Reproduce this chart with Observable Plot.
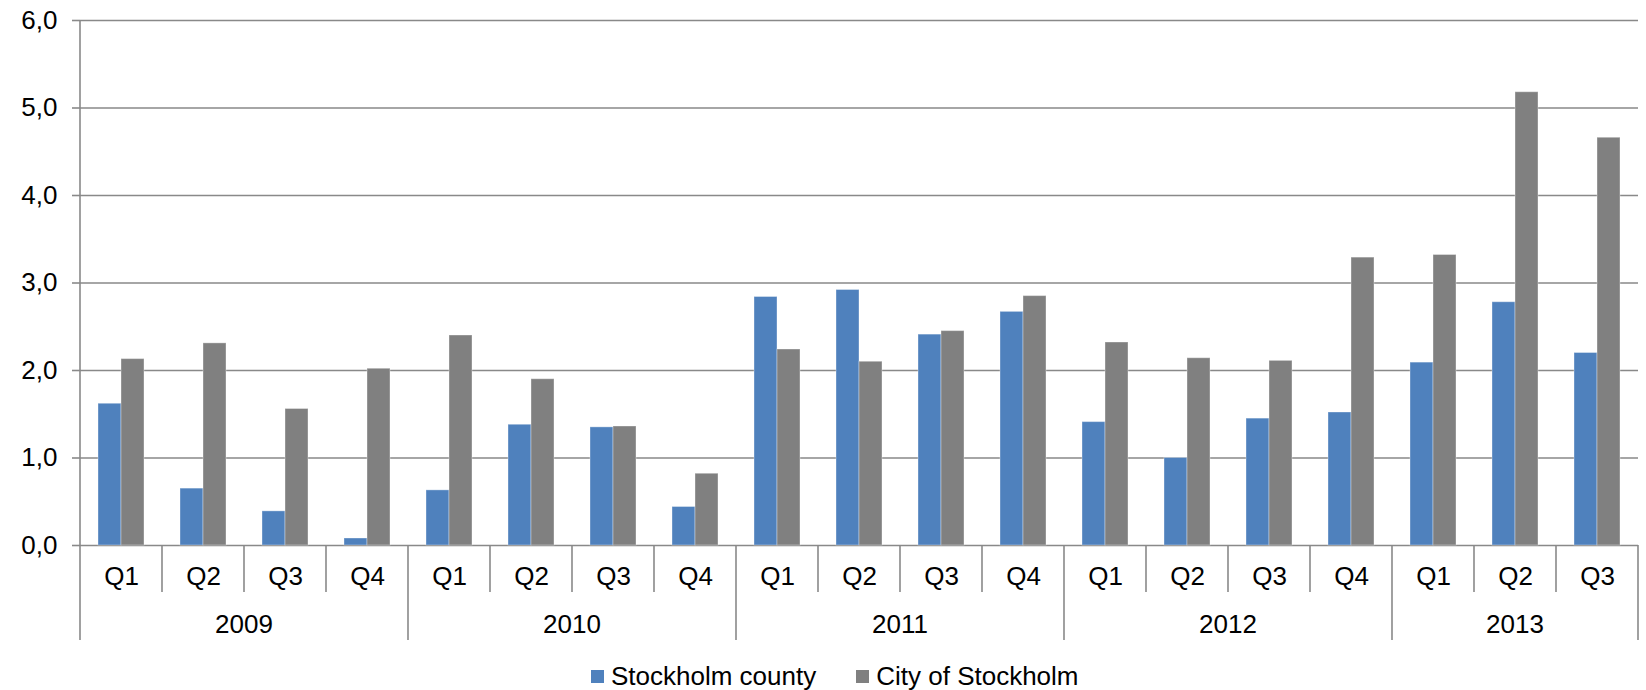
<!DOCTYPE html>
<html>
<head>
<meta charset="utf-8">
<script src="https://cdn.jsdelivr.net/npm/d3@7"></script>
<script src="https://cdn.jsdelivr.net/npm/@observablehq/plot@0.6"></script>
<style>
html, body { margin: 0; padding: 0; overflow: hidden; background: #fff; }
body { font-family: "Liberation Sans", Arial, sans-serif; color: #000; }
#legend { height: 29px; line-height: 30px; font-size: 26px; display: flex; align-items: center; padding-left: 591px; white-space: nowrap; }
#legend .item { display: inline-flex; align-items: center; margin-right: 40px; }
#legend .sw { width: 13px; height: 13px; margin-right: 7px; position: relative; top: 1px; }
</style>
</head>
<body>
<div id="chart"></div>
<div id="legend"></div>
<script>
const years    = ["2009","2009","2009","2009","2010","2010","2010","2010","2011","2011","2011","2011","2012","2012","2012","2012","2013","2013","2013"];
const quarters = ["Q1","Q2","Q3","Q4","Q1","Q2","Q3","Q4","Q1","Q2","Q3","Q4","Q1","Q2","Q3","Q4","Q1","Q2","Q3"];
const county   = [1.62, 0.65, 0.39, 0.08, 0.63, 1.38, 1.35, 0.44, 2.84, 2.92, 2.41, 2.67, 1.41, 1.00, 1.45, 1.52, 2.09, 2.78, 2.20];
const city     = [2.13, 2.31, 1.56, 2.02, 2.40, 1.90, 1.36, 0.82, 2.24, 2.10, 2.45, 2.85, 2.32, 2.14, 2.11, 3.29, 3.32, 5.18, 4.66];
const seriesNames = ["Stockholm county", "City of Stockholm"];
const seriesColors = ["#4f81bd", "#808080"];
const yTicks = [0, 1, 2, 3, 4, 5, 6];

const keys = years.map((y, i) => y + " " + quarters[i]);
const rows = [];
keys.forEach((k, i) => {
  rows.push({key: k, series: seriesNames[0], value: county[i]});
  rows.push({key: k, series: seriesNames[1], value: city[i]});
});
const cats = keys.map((k, i) => ({key: k, q: quarters[i]}));

const W = 1646, H = 661;
const gridColor = "#898989";
const fmt = d => d.toFixed(1).replace(".", ",");

const plot = Plot.plot({
  width: W, height: H,
  marginLeft: 74, marginRight: 3, marginTop: 20, marginBottom: 116,
  style: {fontFamily: "'Liberation Sans', Arial, sans-serif", fontSize: "26px", color: "#000", background: "#fff", overflow: "visible"},
  fx: {domain: keys, padding: 0, axis: null, label: null},
  x: {domain: seriesNames, paddingInner: 0, paddingOuter: 0.77, axis: null, label: null},
  y: {domain: [0, 6], axis: null, label: null},
  color: {domain: seriesNames, range: seriesColors},
  marks: [
    Plot.gridY(yTicks, {stroke: gridColor, strokeOpacity: 1, strokeWidth: 1.6}),
    Plot.barY(rows, {fx: "key", x: "series", y: "value", fill: "series", stroke: "#ffffff", strokeOpacity: 0.35, strokeWidth: 1}),
    Plot.axisY(yTicks, {tickSize: 8, tickPadding: 15, tickFormat: fmt, stroke: gridColor, strokeWidth: 1.6, fill: "#000", fontSize: 26, label: null}),
    Plot.text(cats, {fx: "key", text: "q", frameAnchor: "bottom", lineAnchor: "middle", dy: 31, fontSize: 26, fill: "#000"})
  ]
});
document.getElementById("chart").appendChild(plot);

// hierarchical category axis: separators and year labels from the fx scale
const fxs = plot.scale("fx");
const ys = plot.scale("y");
const bw = fxs.bandwidth;
const svg = d3.select(plot);
const g = svg.append("g").attr("stroke", gridColor).attr("stroke-width", 1.6).attr("fill", "none");
const y0 = ys.apply(0), yTop = ys.apply(6);
const qEnd = y0 + 47, yrEnd = y0 + 95;
keys.forEach((k, i) => {
  const x = fxs.apply(k);
  const yearStart = i === 0 || years[i] !== years[i - 1];
  g.append("line").attr("x1", x).attr("x2", x).attr("y1", i === 0 ? yTop : y0).attr("y2", yearStart ? yrEnd : qEnd);
});
const xEnd = fxs.apply(keys[keys.length - 1]) + bw;
g.append("line").attr("x1", xEnd).attr("x2", xEnd).attr("y1", y0).attr("y2", yrEnd);

const uniqYears = [...new Set(years)];
const tg = svg.append("g").attr("font-size", 26).attr("fill", "#000").attr("text-anchor", "middle");
uniqYears.forEach(yr => {
  const idx = keys.filter((k, i) => years[i] === yr);
  const a = fxs.apply(idx[0]), b = fxs.apply(idx[idx.length - 1]) + bw;
  tg.append("text").attr("x", (a + b) / 2).attr("y", y0 + 80).attr("dy", "0.32em").text(yr);
});

// legend
const leg = document.getElementById("legend");
seriesNames.forEach((s, i) => {
  const it = document.createElement("span");
  it.className = "item";
  const sw = document.createElement("span");
  sw.className = "sw";
  sw.style.background = seriesColors[i];
  const t = document.createElement("span");
  t.textContent = s;
  it.appendChild(sw); it.appendChild(t);
  leg.appendChild(it);
});
</script>
</body>
</html>
